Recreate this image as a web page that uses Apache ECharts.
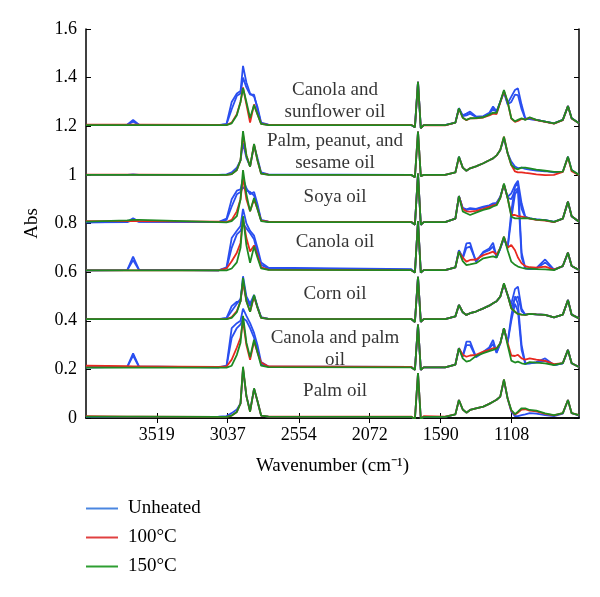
<!DOCTYPE html>
<html>
<head>
<meta charset="utf-8">
<script src="https://cdn.jsdelivr.net/npm/echarts@6/dist/echarts.min.js"></script>
<style>html,body{margin:0;padding:0;background:#fff}#c{width:600px;height:597px}</style>
</head>
<body>
<div id="c"></div>
<script>
// Wavenumber grid (cm^-1) shared by every spectrum
const wavenumbers = [4000,3720,3680,3640,3100,3045,3010,2975,2950,2933,2910,2885,2858,2835,2810,2760,1790,1765,1744,1725,1705,1560,1490,1466,1440,1415,1390,1350,1300,1260,1234,1210,1185,1160,1135,1110,1085,1065,1040,1015,985,940,880,820,760,725,700,650];
const xTickValues = [3519,3037,2554,2072,1590,1108];
const legendNames = ['Unheated','100°C','150°C'];

// Canola and sunflower oil
const csBlue1 = [1.205,1.206,1.226,1.206, 1.205,1.21,1.30,1.335,1.345,1.448,1.38,1.335,1.322,1.28,1.215,1.207, 1.205,1.196,1.383,1.192,1.205, 1.205,1.215,1.274,1.245,1.252,1.26,1.24,1.242,1.255,1.281,1.262,1.30,1.342,1.294,1.322,1.349,1.356,1.288,1.233,1.229,1.226,1.219,1.212,1.226,1.283,1.233,1.212];
const csBlue2 = [1.205,1.206,1.219,1.206, 1.205,1.208,1.27,1.325,1.335,1.40,1.36,1.33,1.33,1.27,1.212,1.206, 1.205,1.196,1.383,1.192,1.205, 1.205,1.215,1.274,1.242,1.245,1.252,1.238,1.24,1.25,1.272,1.258,1.30,1.34,1.29,1.30,1.33,1.328,1.27,1.23,1.229,1.226,1.219,1.212,1.226,1.283,1.233,1.212];
const csRed = [1.207,1.207,1.207,1.207, 1.206,1.205,1.215,1.25,1.30,1.36,1.29,1.215,1.29,1.25,1.21,1.206, 1.206,1.196,1.383,1.192,1.205, 1.204,1.215,1.272,1.235,1.225,1.232,1.232,1.236,1.245,1.252,1.25,1.298,1.345,1.30,1.232,1.218,1.222,1.23,1.228,1.235,1.225,1.218,1.211,1.225,1.283,1.232,1.212];
const csGreen = [1.205,1.205,1.205,1.205, 1.205,1.205,1.212,1.245,1.30,1.357,1.30,1.234,1.287,1.25,1.21,1.205, 1.205,1.196,1.383,1.192,1.205, 1.205,1.215,1.274,1.235,1.226,1.233,1.234,1.237,1.248,1.256,1.255,1.301,1.349,1.301,1.233,1.22,1.226,1.233,1.226,1.237,1.226,1.219,1.212,1.226,1.283,1.233,1.212];

// Palm, peanut, and sesame oil
const ppsBlue = [1.0,1.0,1.002,1.0, 1.0,1.002,1.01,1.03,1.06,1.13,1.07,1.035,1.12,1.07,1.01,1.002, 1.0,0.99,1.178,0.995,1.0, 1.0,1.01,1.075,1.03,1.017,1.027,1.035,1.048,1.06,1.068,1.08,1.102,1.15,1.089,1.055,1.034,1.028,1.03,1.025,1.022,1.018,1.015,1.01,1.013,1.075,1.02,0.999];
const ppsRed = [1.001,1.001,1.001,1.001, 1.0,1.0,1.003,1.02,1.06,1.165,1.08,1.034,1.125,1.06,1.005,1.001, 1.0,0.99,1.178,0.995,1.0, 1.0,1.01,1.073,1.03,1.017,1.027,1.035,1.048,1.06,1.068,1.08,1.102,1.157,1.089,1.04,1.014,1.01,1.01,1.008,1.006,1.002,0.999,1.0,1.012,1.073,1.015,0.999];
const ppsGreen = [1.0,1.0,1.0,1.0, 1.0,1.0,1.003,1.02,1.06,1.18,1.08,1.034,1.127,1.06,1.005,1.0, 1.0,0.99,1.178,0.995,1.0, 1.0,1.01,1.075,1.03,1.017,1.027,1.035,1.048,1.06,1.068,1.08,1.102,1.157,1.089,1.041,1.027,1.023,1.03,1.03,1.027,1.022,1.017,1.012,1.013,1.075,1.02,1.0];

// Soya oil
const soyaBlue1 = [0.805,0.807,0.821,0.808, 0.806,0.82,0.90,0.935,0.94,0.985,0.945,0.92,0.93,0.88,0.815,0.808, 0.806,0.795,1.005,0.795,0.806, 0.806,0.82,0.913,0.865,0.858,0.863,0.86,0.869,0.875,0.883,0.885,0.91,0.96,0.91,0.924,0.958,0.976,0.883,0.828,0.821,0.817,0.814,0.807,0.82,0.89,0.83,0.807];
const soyaBlue2 = [0.805,0.806,0.815,0.807, 0.806,0.815,0.87,0.92,0.93,0.95,0.935,0.93,0.915,0.87,0.812,0.807, 0.806,0.795,1.005,0.795,0.806, 0.806,0.82,0.913,0.862,0.855,0.86,0.858,0.866,0.872,0.878,0.882,0.908,0.958,0.905,0.90,0.935,0.945,0.86,0.825,0.821,0.817,0.814,0.807,0.82,0.89,0.83,0.807];
const soyaRed = [0.81,0.81,0.81,0.81, 0.808,0.806,0.815,0.85,0.90,0.99,0.90,0.85,0.90,0.86,0.812,0.808, 0.807,0.795,1.005,0.795,0.806, 0.806,0.82,0.913,0.86,0.85,0.849,0.852,0.86,0.868,0.875,0.878,0.905,0.962,0.905,0.835,0.835,0.83,0.828,0.825,0.82,0.815,0.812,0.806,0.82,0.89,0.83,0.807];
const soyaGreen = [0.808,0.813,0.815,0.815, 0.806,0.805,0.81,0.83,0.90,1.02,0.92,0.85,0.905,0.86,0.81,0.806, 0.806,0.795,1.005,0.795,0.806, 0.806,0.82,0.913,0.85,0.842,0.835,0.845,0.856,0.862,0.87,0.875,0.905,0.965,0.905,0.828,0.821,0.821,0.821,0.822,0.821,0.816,0.814,0.807,0.82,0.89,0.83,0.807];

// Canola oil
const canolaBlue1 = [0.607,0.608,0.664,0.61, 0.607,0.62,0.74,0.77,0.79,0.86,0.80,0.77,0.75,0.70,0.64,0.618, 0.612,0.598,0.81,0.598,0.608, 0.608,0.62,0.69,0.66,0.718,0.72,0.643,0.684,0.697,0.721,0.663,0.697,0.74,0.70,0.85,0.95,0.97,0.68,0.616,0.612,0.616,0.652,0.61,0.625,0.68,0.625,0.609];
const canolaBlue2 = [0.607,0.608,0.65,0.609, 0.607,0.615,0.70,0.755,0.77,0.80,0.78,0.76,0.735,0.68,0.63,0.615, 0.61,0.598,0.81,0.598,0.608, 0.608,0.62,0.688,0.655,0.70,0.705,0.645,0.68,0.69,0.705,0.66,0.697,0.74,0.70,0.82,0.92,0.94,0.66,0.615,0.612,0.615,0.64,0.61,0.625,0.68,0.625,0.609];
const canolaRed = [0.607,0.607,0.607,0.607, 0.607,0.615,0.645,0.68,0.72,0.82,0.74,0.685,0.71,0.67,0.62,0.61, 0.608,0.598,0.81,0.598,0.608, 0.608,0.62,0.684,0.66,0.643,0.65,0.652,0.67,0.678,0.684,0.672,0.70,0.745,0.70,0.712,0.69,0.66,0.636,0.625,0.62,0.618,0.623,0.61,0.625,0.68,0.625,0.609];
const canolaGreen = [0.607,0.607,0.607,0.607, 0.607,0.607,0.615,0.64,0.70,0.83,0.71,0.638,0.705,0.66,0.615,0.609, 0.608,0.598,0.81,0.598,0.608, 0.608,0.62,0.684,0.645,0.629,0.632,0.637,0.657,0.662,0.665,0.66,0.70,0.746,0.69,0.643,0.63,0.623,0.618,0.614,0.614,0.612,0.611,0.608,0.625,0.68,0.625,0.609];

// Corn oil
const cornBlue1 = [0.407,0.407,0.407,0.407, 0.407,0.412,0.46,0.478,0.48,0.583,0.50,0.47,0.506,0.46,0.415,0.408, 0.407,0.395,0.581,0.395,0.407, 0.407,0.418,0.465,0.435,0.424,0.431,0.438,0.451,0.462,0.472,0.48,0.499,0.55,0.506,0.47,0.53,0.54,0.45,0.425,0.428,0.426,0.424,0.414,0.425,0.485,0.425,0.41];
const cornBlue2 = [0.407,0.407,0.407,0.407, 0.407,0.41,0.44,0.47,0.49,0.56,0.49,0.46,0.50,0.455,0.413,0.408, 0.407,0.395,0.581,0.395,0.407, 0.407,0.418,0.465,0.435,0.424,0.431,0.438,0.451,0.462,0.472,0.48,0.499,0.55,0.506,0.455,0.49,0.50,0.44,0.425,0.428,0.426,0.424,0.414,0.425,0.485,0.425,0.41];
const cornRed = [0.407,0.407,0.407,0.407, 0.407,0.407,0.415,0.44,0.48,0.56,0.48,0.437,0.50,0.455,0.412,0.408, 0.407,0.395,0.581,0.395,0.407, 0.407,0.418,0.465,0.435,0.424,0.431,0.438,0.451,0.462,0.472,0.48,0.499,0.552,0.506,0.451,0.437,0.428,0.425,0.424,0.428,0.426,0.424,0.414,0.425,0.485,0.425,0.41];
const cornGreen = [0.407,0.407,0.407,0.407, 0.407,0.407,0.412,0.435,0.48,0.576,0.48,0.437,0.506,0.455,0.412,0.408, 0.407,0.395,0.581,0.395,0.407, 0.407,0.418,0.465,0.435,0.424,0.431,0.438,0.451,0.462,0.472,0.48,0.499,0.554,0.506,0.451,0.437,0.428,0.425,0.424,0.428,0.426,0.424,0.414,0.425,0.485,0.425,0.41];

// Canola and palm oil
const cpBlue1 = [0.208,0.21,0.266,0.212, 0.208,0.215,0.37,0.39,0.40,0.45,0.42,0.39,0.35,0.30,0.23,0.212, 0.21,0.198,0.384,0.198,0.208, 0.208,0.22,0.287,0.255,0.314,0.314,0.252,0.273,0.29,0.321,0.27,0.307,0.369,0.31,0.42,0.50,0.47,0.30,0.225,0.225,0.23,0.245,0.218,0.225,0.28,0.225,0.21];
const cpBlue2 = [0.208,0.209,0.257,0.21, 0.208,0.212,0.33,0.37,0.385,0.41,0.40,0.37,0.33,0.28,0.222,0.21, 0.21,0.198,0.384,0.198,0.208, 0.208,0.22,0.287,0.252,0.30,0.30,0.25,0.27,0.285,0.305,0.268,0.307,0.369,0.31,0.40,0.47,0.44,0.28,0.223,0.225,0.228,0.235,0.218,0.225,0.28,0.225,0.21];
const cpRed = [0.215,0.213,0.212,0.212, 0.21,0.212,0.24,0.29,0.33,0.40,0.30,0.239,0.315,0.27,0.228,0.212, 0.21,0.198,0.384,0.198,0.208, 0.208,0.22,0.287,0.26,0.252,0.257,0.26,0.273,0.28,0.287,0.287,0.307,0.369,0.31,0.257,0.255,0.26,0.245,0.24,0.245,0.24,0.235,0.222,0.226,0.28,0.225,0.21];
const cpGreen = [0.207,0.207,0.207,0.207, 0.207,0.207,0.215,0.26,0.31,0.42,0.31,0.25,0.322,0.27,0.215,0.209, 0.208,0.198,0.384,0.198,0.208, 0.208,0.22,0.287,0.245,0.232,0.236,0.255,0.267,0.275,0.28,0.285,0.307,0.369,0.30,0.236,0.228,0.232,0.225,0.222,0.23,0.228,0.225,0.218,0.226,0.28,0.225,0.21];

// Palm oil
const palmBlue = [0.005,0.005,0.005,0.005, 0.006,0.008,0.02,0.035,0.06,0.20,0.09,0.03,0.12,0.07,0.01,0.006, 0.005,-0.004,0.185,-0.004,0.005, 0.005,0.015,0.074,0.035,0.022,0.033,0.04,0.047,0.058,0.067,0.075,0.088,0.155,0.08,0.026,0.008,0.008,0.012,0.015,0.02,0.018,0.012,0.008,0.018,0.074,0.02,0.01];
const palmRed = [0.008,0.006,0.006,0.006, 0.005,0.005,0.01,0.025,0.06,0.205,0.09,0.026,0.12,0.07,0.01,0.006, 0.006,-0.004,0.185,-0.004,0.008, 0.006,0.015,0.074,0.035,0.022,0.033,0.04,0.047,0.058,0.067,0.075,0.088,0.158,0.08,0.03,0.014,0.022,0.035,0.036,0.03,0.027,0.017,0.011,0.02,0.074,0.02,0.012];
const palmGreen = [0.006,0.006,0.006,0.006, 0.005,0.005,0.01,0.025,0.06,0.211,0.09,0.026,0.122,0.07,0.01,0.006, 0.005,-0.004,0.185,-0.004,0.005, 0.005,0.015,0.074,0.035,0.022,0.033,0.04,0.047,0.058,0.067,0.075,0.088,0.159,0.08,0.033,0.016,0.026,0.04,0.04,0.033,0.03,0.019,0.012,0.02,0.074,0.02,0.012];

// Oil labels
const annotationText = ['Canola and\nsunflower oil','Palm, peanut, and\nsesame oil','Soya oil','Canola oil','Corn oil','Canola and palm\noil','Palm oil'];
const annotationY = [1.305,1.095,0.909,0.724,0.51,0.285,0.111];
const annotationX = 2308;

const blueSets = [csBlue1,csBlue2,ppsBlue,soyaBlue1,soyaBlue2,canolaBlue1,canolaBlue2,cornBlue1,cornBlue2,cpBlue1,cpBlue2,palmBlue];
const redSets = [csRed,ppsRed,soyaRed,canolaRed,cornRed,cpRed,palmRed];
const greenSets = [csGreen,ppsGreen,soyaGreen,canolaGreen,cornGreen,cpGreen,palmGreen];

const lineColors = ['#2a4ff0','#e8281f','#1e8a22'];
const legendColors = ['#4a86e0','#e04040','#2e9e32'];
const FONT = 'Liberation Serif';

const series = [];
[blueSets, redSets, greenSets].forEach((sets, k) => {
  sets.forEach(arr => {
    series.push({
      type: 'line', name: legendNames[k], symbol: 'none', silent: true,
      lineStyle: { color: lineColors[k], width: 1.8 },
      itemStyle: { color: lineColors[k] },
      data: wavenumbers.map((w, i) => [w, arr[i]])
    });
  });
});
series.push({
  type: 'scatter', name: 'labels', symbolSize: 0, silent: true,
  label: { show: true, position: 'inside', formatter: p => p.data.text,
           color: '#000', fontFamily: FONT, fontSize: 19, lineHeight: 22, align: 'center', verticalAlign: 'middle' },
  data: annotationText.map((t, i) => ({ value: [annotationX, annotationY[i]], text: t }))
});

const axisLine = { show: true, lineStyle: { color: '#000', width: 1.5 } };
const chart = echarts.init(document.getElementById('c'), null, { renderer: 'canvas' });
chart.setOption({
  animation: false,
  backgroundColor: '#fff',
  grid: { left: 86, right: 21, top: 29, bottom: 179, containLabel: false },
  legend: {
    orient: 'vertical', left: 86, top: 499, padding: 0, selectedMode: false,
    icon: 'rect', itemWidth: 32, itemHeight: 2, itemGap: 10,
    textStyle: { fontFamily: FONT, fontSize: 19, color: '#000', padding: [0, 0, 0, 5] },
    data: legendNames.map((n, k) => ({ name: n, itemStyle: { color: legendColors[k] } }))
  },
  xAxis: [
    { type: 'value', min: 650, max: 4000, inverse: true, position: 'bottom',
      axisLine, splitLine: { show: false },
      axisTick: { show: true, inside: true, length: 5, customValues: xTickValues, lineStyle: { color: '#000' } },
      axisLabel: { customValues: xTickValues, color: '#000', fontFamily: FONT, fontSize: 18, margin: 8,
                   formatter: v => String(v) },
      name: 'Wavenumber (cm⁻¹)', nameLocation: 'middle', nameGap: 39,
      nameTextStyle: { color: '#000', fontFamily: FONT, fontSize: 19 } },
    { type: 'value', min: 650, max: 4000, inverse: true, position: 'top',
      axisLine, splitLine: { show: false },
      axisTick: { show: true, inside: true, length: 5, customValues: xTickValues, lineStyle: { color: '#000' } },
      axisLabel: { show: false } }
  ],
  yAxis: [
    { type: 'value', min: 0, max: 1.6, interval: 0.2, position: 'left',
      axisLine, splitLine: { show: false },
      axisTick: { show: true, inside: true, length: 5, lineStyle: { color: '#000' } },
      axisLabel: { color: '#000', fontFamily: FONT, fontSize: 18, margin: 9,
                   formatter: v => String(+v.toFixed(1)) },
      name: 'Abs', nameLocation: 'middle', nameGap: 44,
      nameTextStyle: { color: '#000', fontFamily: FONT, fontSize: 19 } },
    { type: 'value', min: 0, max: 1.6, interval: 0.2, position: 'right',
      axisLine, splitLine: { show: false },
      axisTick: { show: true, inside: true, length: 5, lineStyle: { color: '#000' } },
      axisLabel: { show: false } }
  ],
  series
});
</script>
</body>
</html>
